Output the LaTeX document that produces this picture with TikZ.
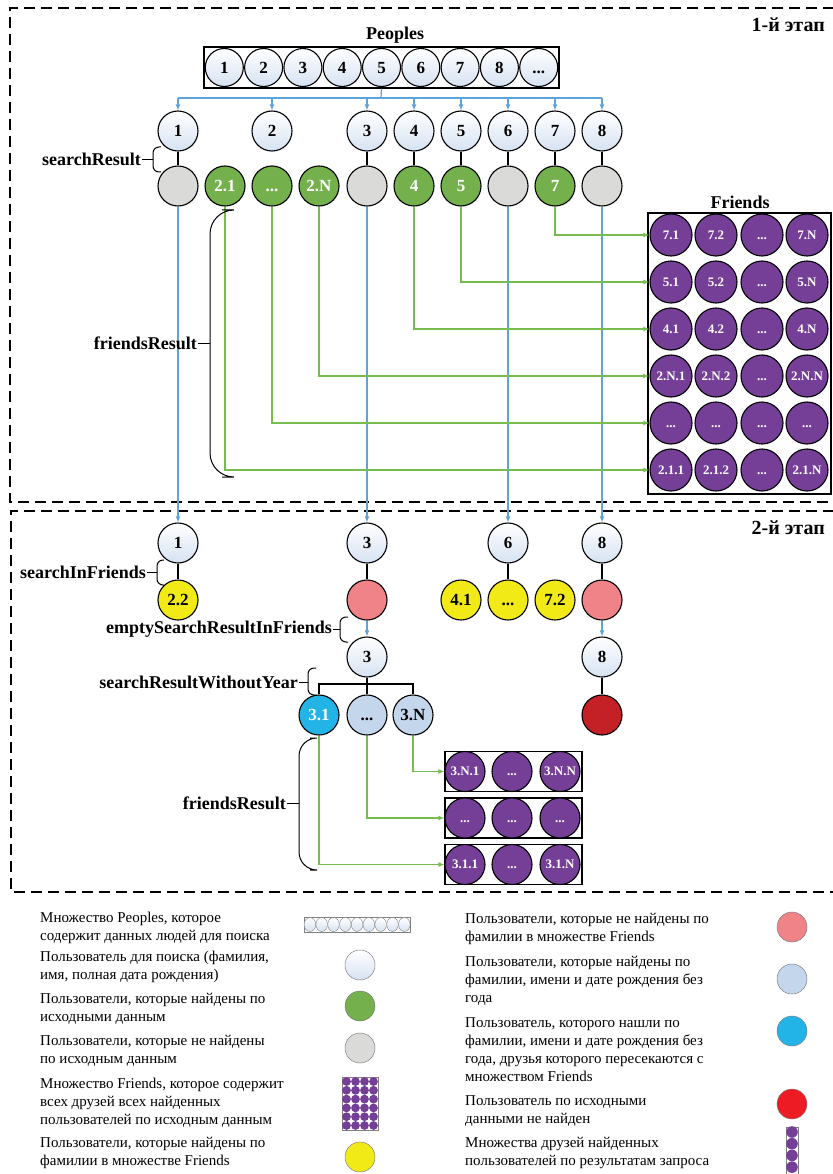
\documentclass[tikz,border=0pt]{standalone}
\usepackage{fontspec}
\setmainfont{Liberation Serif}
\usetikzlibrary{arrows.meta}
\tikzset{>={Latex[length=6pt,width=5pt]}}
\newcommand{\threedots}{...}

\definecolor{userbot}{RGB}{214,226,242}
\definecolor{missgray}{RGB}{218,218,216}
\definecolor{hitgreen}{RGB}{116,176,76}
\definecolor{friendpurple}{RGB}{117,63,152}
\definecolor{famyellow}{RGB}{242,234,22}
\definecolor{fampink}{RGB}{240,131,135}
\definecolor{noyearblue}{RGB}{196,214,236}
\definecolor{noyearcyan}{RGB}{35,180,231}
\definecolor{lostred}{RGB}{196,33,39}
\definecolor{legendred}{RGB}{237,28,36}
\definecolor{flowblue}{RGB}{94,162,222}
\definecolor{flowgreen}{RGB}{118,188,78}

\tikzset{
  ball/.style={circle, draw, line width=1.1pt, minimum size=40pt, inner sep=0pt,
    text height=11.5pt, text depth=0pt,
    font=\bfseries\fontsize{17}{17}\selectfont},
  user/.style={ball, top color=white, bottom color=userbot},
  miss/.style={ball, fill=missgray},
  hit/.style={ball, fill=hitgreen, text=white},
  friend/.style={ball, fill=friendpurple, text=white, minimum size=42pt,
    text height=8.8pt, font=\bfseries\fontsize{13}{13}\selectfont},
  famhit/.style={ball, fill=famyellow},
  fammiss/.style={ball, fill=fampink},
  noyear/.style={ball, fill=noyearblue},
  noyearhit/.style={ball, fill=noyearcyan, text=white},
  lost/.style={ball, fill=lostred},
  setbox/.style={draw, line width=1.1pt, fill=white, inner sep=0pt},
  lbl/.style={font=\bfseries\fontsize{18}{18}\selectfont, inner sep=1pt},
  stagelbl/.style={font=\bfseries\fontsize{20}{20}\selectfont, inner sep=1pt},
  stagebox/.style={line width=1.3pt, dash pattern=on 11pt off 6pt},
  brc/.style={line width=1pt},
  blueflow/.style={flowblue, line width=1.2pt},
  greenflow/.style={flowgreen, line width=1.6pt},
  tie/.style={line width=1.1pt},
  legtext/.style={anchor=west, align=left, inner sep=0pt, font=\fontsize{15}{18}\selectfont},
  legball/.style={circle, draw=gray, line width=0.5pt, minimum size=30pt, inner sep=0pt},
}

\begin{document}
\begin{tikzpicture}[x=1pt, y=-1pt]
  \useasboundingbox (0,0) rectangle (832,1174);

  % stages
  \draw[stagebox] (834,8) -| (10,502) -- (834,502);
  \draw[stagebox] (834,511) -| (11,892) -- (834,892);
  \node[stagelbl, anchor=east] (st1) at (826,25) {1-й этап};
  \node[stagelbl, anchor=east] (st2) at (826,528) {2-й этап};

  % Peoples
  \node[lbl] (plabel) at (395,35) {Peoples};
  \node[setbox, minimum width=355pt, minimum height=41pt] (peoples) at (381.5,67.5) {};
  \foreach \i in {1,...,8}
    \node[user, minimum size=38pt] (p\i) at (185+39.3*\i,67.5) {\i};
  \node[user, minimum size=38pt] (p9) at (538.7,67.5) {...};

  % searched users and searchResult
  \foreach \x [count=\i] in {178,272,367,414,461,508,555,602}
    \node[user] (s\i) at (\x,131) {\i};
  \node[miss] (r1) at (178,186) {};
  \node[hit] (r21) at (225,186) {2.1};
  \node[hit] (r2x) at (272,186) {...};
  \node[hit] (r2n) at (319,186) {2.N};
  \node[miss] (r3) at (367,186) {};
  \node[hit] (r4) at (414,186) {4};
  \node[hit] (r5) at (461,186) {5};
  \node[miss] (r6) at (508,186) {};
  \node[hit] (r7) at (555,186) {7};
  \node[miss] (r8) at (602,186) {};

  % Friends
  \node[lbl] (flabel) at (740,202) {Friends};
  \node[setbox, minimum width=183pt, minimum height=281pt] (friends) at (739.5,353.5) {};
  \foreach \a/\b/\c/\d [count=\r] in {7.1/7.2/\threedots/7.N, 5.1/5.2/\threedots/5.N,
      4.1/4.2/\threedots/4.N, 2.N.1/2.N.2/\threedots/2.N.N,
      \threedots/\threedots/\threedots/\threedots, 2.1.1/2.1.2/\threedots/2.1.N}{
    \node[friend] (f\r-1) at (671,188+47*\r) {\a};
    \node[friend] (f\r-2) at (716,188+47*\r) {\b};
    \node[friend] (f\r-3) at (762,188+47*\r) {\c};
    \node[friend] (f\r-4) at (807,188+47*\r) {\d};
  }

  % stage 2 nodes
  \node[user] (u1) at (178,543) {1};
  \node[user] (u3) at (367,543) {3};
  \node[user] (u6) at (508,543) {6};
  \node[user] (u8) at (602,543) {8};
  \node[famhit] (y22) at (178,600) {2.2};
  \node[fammiss] (e3) at (367,600) {};
  \node[famhit] (y41) at (461,600) {4.1};
  \node[famhit] (y6x) at (508,600) {...};
  \node[famhit] (y72) at (555,600) {7.2};
  \node[fammiss] (e8) at (602,600) {};
  \node[user] (v3) at (367,657) {3};
  \node[user] (v8) at (602,657) {8};
  \node[noyearhit] (w1) at (319,715) {3.1};
  \node[noyear] (w2) at (367,715) {...};
  \node[noyear] (w3) at (413,715) {3.N};
  \node[lost] (x8) at (602,715) {};

  \foreach \a/\b/\c [count=\r] in {3.N.1/\threedots/3.N.N,
      \threedots/\threedots/\threedots, 3.1.1/\threedots/3.1.N}{
    \node[setbox, minimum width=137pt, minimum height=40pt] (g\r) at (513.5,725+46.5*\r) {};
    \node[friend, minimum size=40pt] (h\r-1) at (465,725+46.5*\r) {\a};
    \node[friend, minimum size=40pt] (h\r-2) at (512,725+46.5*\r) {\b};
    \node[friend, minimum size=40pt] (h\r-3) at (560,725+46.5*\r) {\c};
  }

  % connectors, stage 1
  \draw[blueflow] (peoples.south -| p5) -- (381,98) coordinate (bus);
  \draw[blueflow] (s1 |- bus) -- (s8 |- bus);
  \foreach \i in {1,...,8}
    \draw[blueflow, ->] (s\i |- bus) -- (s\i.north);
  \foreach \i in {1,3,4,5,6,7,8}
    \draw[tie] (s\i) -- (r\i);
  \foreach \i in {1,3,6,8}
    \draw[blueflow, ->] (r\i.south) -- (u\i.north);
  \foreach \src/\r in {r7/1, r5/2, r4/3, r2n/4, r2x/5, r21/6}
    \draw[greenflow, ->] (\src.south) |- (f\r-1.west);

  % connectors, stage 2
  \draw[tie] (u1) -- (y22);
  \draw[tie] (u3) -- (e3);
  \draw[tie] (u6) -- (y6x);
  \draw[tie] (u8) -- (e8);
  \draw[blueflow, ->] (e3) -- (v3);
  \draw[blueflow, ->] (e8) -- (v8);
  \coordinate (split) at (367,684);
  \draw[tie] (v3) -- (split);
  \draw[tie] (w1) |- (split) -| (w3);
  \draw[tie] (split) -- (w2);
  \draw[tie] (v8) -- (x8);
  \foreach \src/\r in {w3/1, w2/2, w1/3}
    \draw[greenflow, ->] (\src.south) |- (h\r-1.west);

  % braces
  \node[lbl, anchor=east] (sr) at (142,159.5) {searchResult};
  \draw[brc, rounded corners=6pt] (161,147) -- (153,147) -- (153,172) -- (161,172);
  \draw[brc] (sr.east) -- (153,159.5);
  \node[lbl, anchor=east] (fr1) at (198,343) {friendsResult};
  \draw[brc, rounded corners=24pt] (222,210) -- (210,210) -- (210,477) -- (222,477);
  \draw[brc] (fr1.east) -- (210,343);
  \node[lbl, anchor=east] (sif) at (147,572) {searchInFriends};
  \draw[brc, rounded corners=6pt] (164,560) -- (157,560) -- (157,585) -- (164,585);
  \draw[brc] (sif.east) -- (157,572);
  \node[lbl, anchor=east] (esr) at (333,629) {emptySearchResultInFriends};
  \draw[brc, rounded corners=6pt] (348,617) -- (340,617) -- (340,642) -- (348,642);
  \draw[brc] (esr.east) -- (340,629);
  \node[lbl, anchor=east] (swy) at (299,682) {searchResultWithoutYear};
  \draw[brc, rounded corners=6pt] (316,668) -- (308,668) -- (308,695) -- (316,695);
  \draw[brc] (swy.east) -- (308,682);
  \node[lbl, anchor=east] (fr2) at (287,803) {friendsResult};
  \draw[brc, rounded corners=18pt] (310,738) -- (299,738) -- (299,870) -- (310,870);
  \draw[brc] (fr2.east) -- (299,803);

  % legend, left column
  \node[legtext] (lt1) at (40,928) {Множество Peoples, которое\\содержит данных людей для поиска};
  \node[draw=gray, line width=0.5pt, minimum width=106pt, minimum height=15pt, inner sep=0pt] (li1) at (357,924.5) {};
  \foreach \i in {1,...,9}
    \draw[gray, line width=0.4pt, top color=white, bottom color=userbot] (298.1+11.8*\i,924.5) ellipse (5.8 and 7);
  \node[legtext] (lt2) at (40,967) {Пользователь для поиска (фамилия,\\имя, полная дата рождения)};
  \node[legball, top color=white, bottom color=userbot] (li2) at (360,965) {};
  \node[legtext] (lt3) at (40,1009) {Пользователи, которые найдены по\\исходными данным};
  \node[legball, fill=hitgreen] (li3) at (360,1006) {};
  \node[legtext] (lt4) at (40,1051) {Пользователи, которые не найдены\\по исходным данным};
  \node[legball, fill=missgray] (li4) at (360,1048) {};
  \node[legtext] (lt5) at (40,1103) {Множество Friends, которое содержит\\всех друзей всех найденных\\пользователей по исходным данным};
  \node[draw=gray, line width=0.5pt, minimum width=36pt, minimum height=53pt, inner sep=0pt] (li5) at (360,1103.5) {};
  \foreach \c in {0,...,3}
    \foreach \r in {0,...,5}
      \fill[friendpurple] (346.5+9*\c,1081.5+8.8*\r) circle (4.4);
  \node[legtext] (lt6) at (40,1153) {Пользователи, которые найдены по\\фамилии в множестве Friends};
  \node[legball, fill=famyellow] (li6) at (360,1157) {};

  % legend, right column
  \node[legtext] (rt1) at (465,929) {Пользователи, которые не найдены по\\фамилии в множестве Friends};
  \node[legball, fill=fampink] (ri1) at (792,927) {};
  \node[legtext] (rt2) at (465,981) {Пользователи, которые найдены по\\фамилии, имени и дате рождения без\\года};
  \node[legball, fill=noyearblue] (ri2) at (792,979) {};
  \node[legtext] (rt3) at (465,1050) {Пользователь, которого нашли по\\фамилии, имени и дате рождения без\\года, друзья которого пересекаются с\\множеством Friends};
  \node[legball, fill=noyearcyan] (ri3) at (792,1031) {};
  \node[legtext] (rt4) at (465,1111) {Пользователь по исходными\\данными не найден};
  \node[legball, fill=legendred] (ri4) at (792,1104) {};
  \node[legtext] (rt5) at (465,1153) {Множества друзей найденных\\пользователей по результатам запроса};
  \node[draw=gray, line width=0.5pt, minimum width=12pt, minimum height=52pt, inner sep=0pt] (ri5) at (792,1153) {};
  \foreach \r in {0,...,3}
    \fill[friendpurple] (792,1132+11.7*\r) circle (5.8);
\end{tikzpicture}
\end{document}
